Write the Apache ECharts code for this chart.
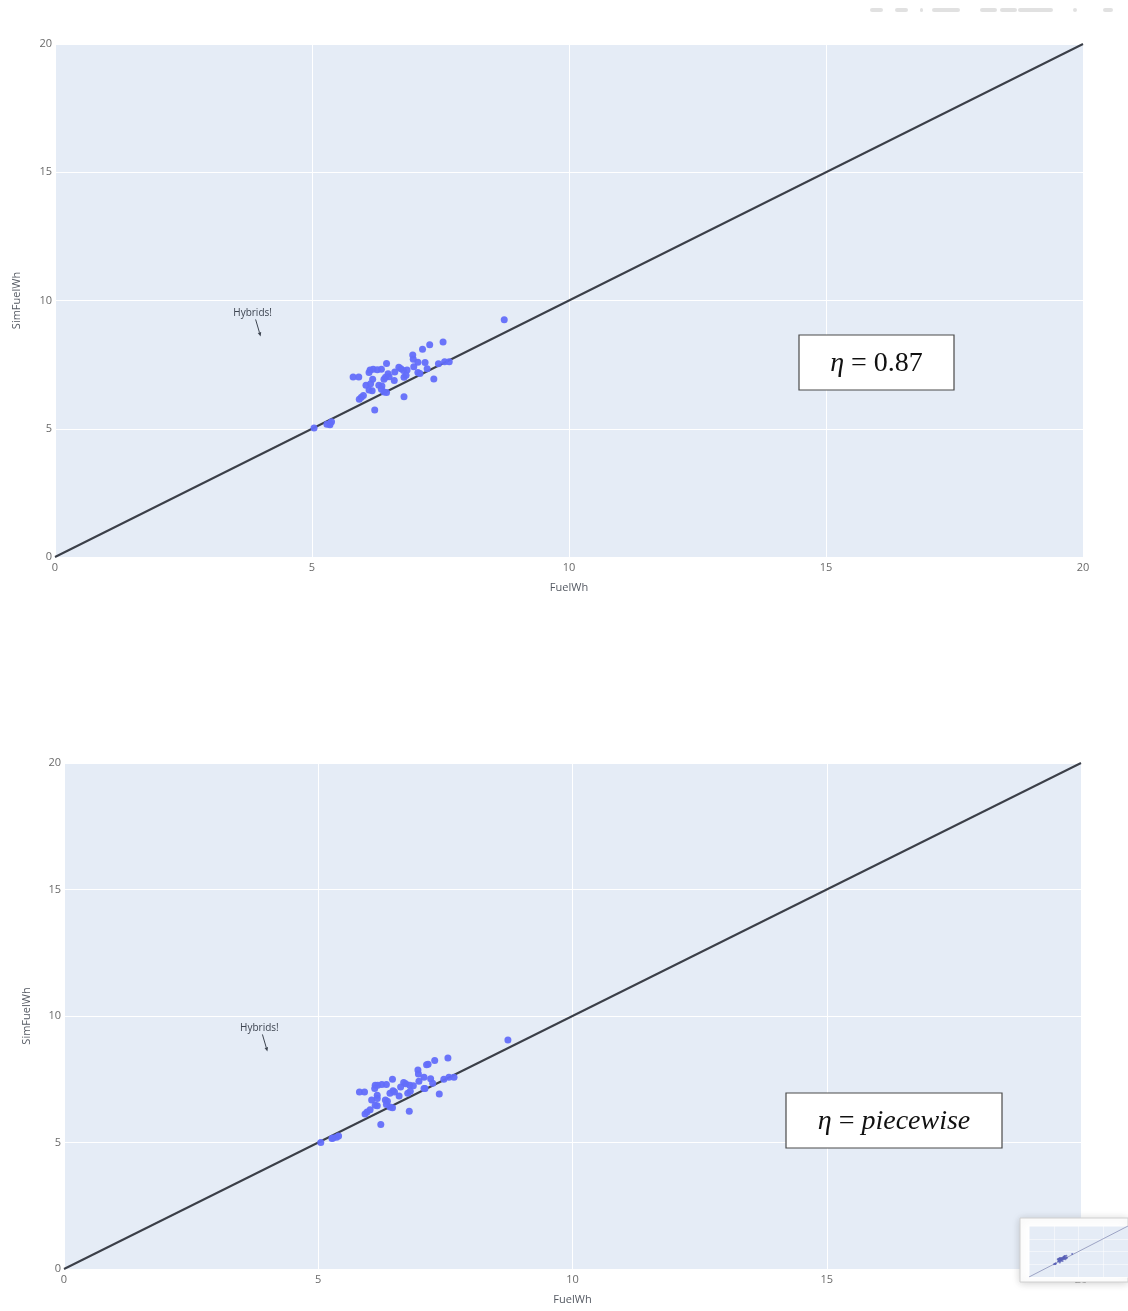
<!DOCTYPE html>
<html>
<head>
<meta charset="utf-8">
<script src="https://cdn.jsdelivr.net/npm/echarts@6/dist/echarts.min.js"></script>
<style>
  html, body { margin: 0; padding: 0; background: #ffffff; }
  #chart { width: 1128px; height: 1311px; }
</style>
</head>
<body>
<div id="chart"></div>
<script>
// Axis ticks shared by every panel (both axes run 0..20 in steps of 5)
const axisTicks = [0, 5, 10, 15, 20];
// End points of the y = x parity line
const parityRange = [0, 20];

// Measured fuel energy vs simulated fuel energy, constant efficiency (eta = 0.87)
const fuelWhConst = [
  8.74, 7.55, 7.29, 7.15, 6.96, 6.97, 7.06, 7.20, 7.46, 7.58, 7.67, 6.45, 6.98, 7.24,
  6.13, 6.19, 6.27, 6.35, 6.69, 6.73, 6.61, 6.78, 6.85, 6.11, 6.48, 7.06, 7.10, 5.80,
  5.91, 6.43, 6.50, 6.79, 6.83, 6.18, 6.60, 7.37, 6.40, 6.05, 6.14, 6.30, 6.36, 6.11,
  6.17, 6.35, 6.40, 6.45, 6.00, 5.96, 5.92, 6.79, 6.22, 5.38, 5.35, 5.29, 5.35, 5.04
];
const simFuelWhConst = [
  9.25, 8.38, 8.27, 8.10, 7.88, 7.71, 7.59, 7.58, 7.53, 7.61, 7.61, 7.54, 7.42, 7.34,
  7.29, 7.32, 7.30, 7.32, 7.40, 7.34, 7.21, 7.27, 7.29, 7.19, 7.14, 7.19, 7.15, 7.02,
  7.02, 7.01, 7.03, 7.01, 7.09, 6.93, 6.88, 6.94, 6.93, 6.70, 6.75, 6.70, 6.67, 6.51,
  6.48, 6.54, 6.43, 6.41, 6.30, 6.23, 6.15, 6.25, 5.73, 5.27, 5.21, 5.18, 5.16, 5.03
];

// Same comparison with a piecewise efficiency model
const fuelWhPiecewise = [
  8.73, 7.55, 7.29, 7.16, 7.13, 6.96, 6.97, 7.08, 7.21, 7.47, 7.57, 7.67, 6.46, 6.98,
  7.25, 6.12, 6.17, 6.25, 6.34, 6.68, 6.72, 6.62, 6.80, 6.87, 6.11, 6.47, 7.08, 7.10,
  5.81, 5.91, 6.41, 6.50, 6.76, 6.81, 6.16, 6.59, 7.38, 6.05, 6.16, 6.32, 6.36, 6.12,
  6.16, 6.34, 6.41, 6.46, 6.02, 5.96, 5.92, 6.79, 6.23, 5.40, 5.36, 5.29, 5.27, 5.05
];
const simFuelWhPiecewise = [
  9.05, 8.34, 8.24, 8.09, 8.07, 7.87, 7.71, 7.58, 7.52, 7.50, 7.58, 7.58, 7.50, 7.42,
  7.34, 7.26, 7.26, 7.29, 7.29, 7.37, 7.32, 7.19, 7.26, 7.24, 7.13, 7.05, 7.13, 7.13,
  7.00, 7.00, 6.95, 7.00, 6.95, 7.03, 6.87, 6.84, 6.92, 6.68, 6.74, 6.68, 6.63, 6.47,
  6.45, 6.50, 6.40, 6.37, 6.29, 6.21, 6.13, 6.24, 5.71, 5.26, 5.21, 5.18, 5.16, 5.00
];

// Annotation pointing at the hybrid vehicles
const hybridsNote = { text: 'Hybrids!', x: 4, y: 8.6 };
// Efficiency labels shown in the boxes of each panel
const etaLabels = ['0.87', 'piecewise'];

const pair = (xs, ys) => xs.map((x, i) => [x, ys[i]]);
const parityData = parityRange.map(v => [v, v]);

const PLOT_BG = '#e5ecf6';
const MARKER = '#636efa';
const LINE = '#3b3f48';
const TICK = '#6a6a6a';
const TITLE = '#555a63';
const FONT = '"Open Sans", "Noto Sans", sans-serif';
const SERIF = '"Liberation Serif", "DejaVu Serif", serif';

const chart = echarts.init(document.getElementById('chart'), null, { renderer: 'canvas' });

// Grids 0 and 1 are the two panels. Grid 3 is the white frame of the preview pane
// in the lower right corner and grid 2 the miniature plot inside it; both sit on
// their own layer (zlevel 1) above the lower panel.
const grids = [
  { left: 55, top: 44, width: 1028, height: 513 },
  { left: 64, top: 763, width: 1017, height: 506 },
  { left: 1029, top: 1226, width: 102, height: 51, zlevel: 1, z: 10 },
  {
    left: 1020, top: 1218, width: 130, height: 64, zlevel: 1, z: 5,
    backgroundColor: '#ffffff', borderColor: '#d0d0d0', borderWidth: 1,
    shadowBlur: 8, shadowColor: 'rgba(0,0,0,0.18)', shadowOffsetY: 1
  }
];

function valueAxis(gridIndex, name, isX, nameGap) {
  const mini = gridIndex >= 2;
  return {
    type: 'value',
    gridIndex,
    show: gridIndex !== 3,
    min: axisTicks[0],
    max: axisTicks[axisTicks.length - 1],
    interval: axisTicks[1] - axisTicks[0],
    zlevel: mini ? 1 : 0,
    z: mini ? 10 : 0,
    name: mini ? '' : name,
    nameLocation: 'middle',
    nameGap,
    nameRotate: isX ? 0 : 90,
    nameTextStyle: { color: TITLE, fontSize: 11, fontFamily: FONT },
    axisLine: { show: false },
    axisTick: { show: false },
    axisLabel: {
      show: !mini,
      color: TICK,
      fontSize: 11,
      fontFamily: FONT,
      margin: isX ? 5 : 3
    },
    splitLine: { show: gridIndex !== 3, lineStyle: { color: '#ffffff', width: mini ? 0.5 : 1 } }
  };
}

const panels = [
  pair(fuelWhConst, simFuelWhConst),
  pair(fuelWhPiecewise, simFuelWhPiecewise),
  pair(fuelWhPiecewise, simFuelWhPiecewise)
];

const series = [];
panels.forEach((pts, i) => {
  const mini = i === 2;
  series.push({
    type: 'line',
    xAxisIndex: i,
    yAxisIndex: i,
    data: parityData,
    showSymbol: false,
    silent: true,
    zlevel: mini ? 1 : 0,
    z: mini ? 11 : 2,
    lineStyle: { color: mini ? '#8a90b8' : LINE, width: mini ? 0.8 : 2 }
  });
  series.push({
    type: 'scatter',
    xAxisIndex: i,
    yAxisIndex: i,
    data: pts,
    symbolSize: mini ? 2 : 7,
    zlevel: mini ? 1 : 0,
    z: mini ? 12 : 3,
    itemStyle: { color: mini ? '#5a62b8' : MARKER, opacity: mini ? 0.8 : 0.95 }
  });
});

chart.setOption({
  animation: false,
  backgroundColor: '#ffffff',
  grid: grids.map(g => Object.assign({ show: true, backgroundColor: PLOT_BG, borderWidth: 0, containLabel: false }, g)),
  xAxis: [
    valueAxis(0, 'FuelWh', true, 25),
    valueAxis(1, 'FuelWh', true, 25),
    valueAxis(2, '', true, 0),
    valueAxis(3, '', true, 0)
  ],
  yAxis: [
    valueAxis(0, 'SimFuelWh', false, 33),
    valueAxis(1, 'SimFuelWh', false, 32),
    valueAxis(2, '', false, 0),
    valueAxis(3, '', false, 0)
  ],
  series
});

// Annotations, efficiency boxes and toolbar
const graphics = [];

[0, 1].forEach(i => {
  const head = chart.convertToPixel({ gridIndex: i }, [hybridsNote.x, hybridsNote.y]);
  const tail = [head[0] - 5, head[1] - 17];
  const dx = head[0] - tail[0], dy = head[1] - tail[1];
  const len = Math.hypot(dx, dy);
  const ux = dx / len, uy = dy / len;
  const px = -uy, py = ux;
  const base = [head[0] - ux * 4, head[1] - uy * 4];
  graphics.push({
    type: 'line',
    shape: { x1: tail[0], y1: tail[1], x2: base[0], y2: base[1] },
    style: { stroke: '#3d4450', lineWidth: 1 }
  });
  graphics.push({
    type: 'polygon',
    shape: { points: [head, [base[0] + px * 1.8, base[1] + py * 1.8], [base[0] - px * 1.8, base[1] - py * 1.8]] },
    style: { fill: '#3d4450' }
  });
  graphics.push({
    type: 'text',
    x: head[0] - 8, y: head[1] - 23.5,
    style: {
      text: hybridsNote.text, fill: '#3d4450', font: '10px ' + FONT,
      align: 'center', verticalAlign: 'middle'
    }
  });
});

const boxes = [
  { x: 799, y: 335, w: 155, h: 55 },
  { x: 786, y: 1093, w: 216, h: 55 }
];
boxes.forEach((b, i) => {
  graphics.push({
    type: 'rect',
    shape: { x: b.x, y: b.y, width: b.w, height: b.h },
    style: { fill: '#ffffff', stroke: '#4a4a4a', lineWidth: 1.2 }
  });
  const isNumber = /^[0-9.]+$/.test(etaLabels[i]);
  graphics.push({
    type: 'text',
    x: b.x + b.w / 2, y: b.y + b.h / 2 + 1,
    style: {
      text: '{i|η}{r| = }{' + (isNumber ? 'r' : 'i') + '|' + etaLabels[i] + '}',
      align: 'center', verticalAlign: 'middle',
      rich: {
        i: { fontFamily: SERIF, fontStyle: 'italic', fontSize: 28, fill: '#111111' },
        r: { fontFamily: SERIF, fontSize: 28, fill: '#111111' }
      }
    }
  });
});

// faint plot toolbar at the top right
[[870, 13], [895, 13], [920, 3], [932, 28], [980, 17], [1000, 17], [1018, 35], [1073, 4], [1103, 10]].forEach(([x, w]) => {
  graphics.push({
    type: 'rect',
    shape: { x, y: 8, width: w, height: 4, r: 2 },
    style: { fill: '#d9d9d9', opacity: 0.8 }
  });
});

chart.setOption({ graphic: { z: 8, elements: graphics } });
</script>
</body>
</html>
